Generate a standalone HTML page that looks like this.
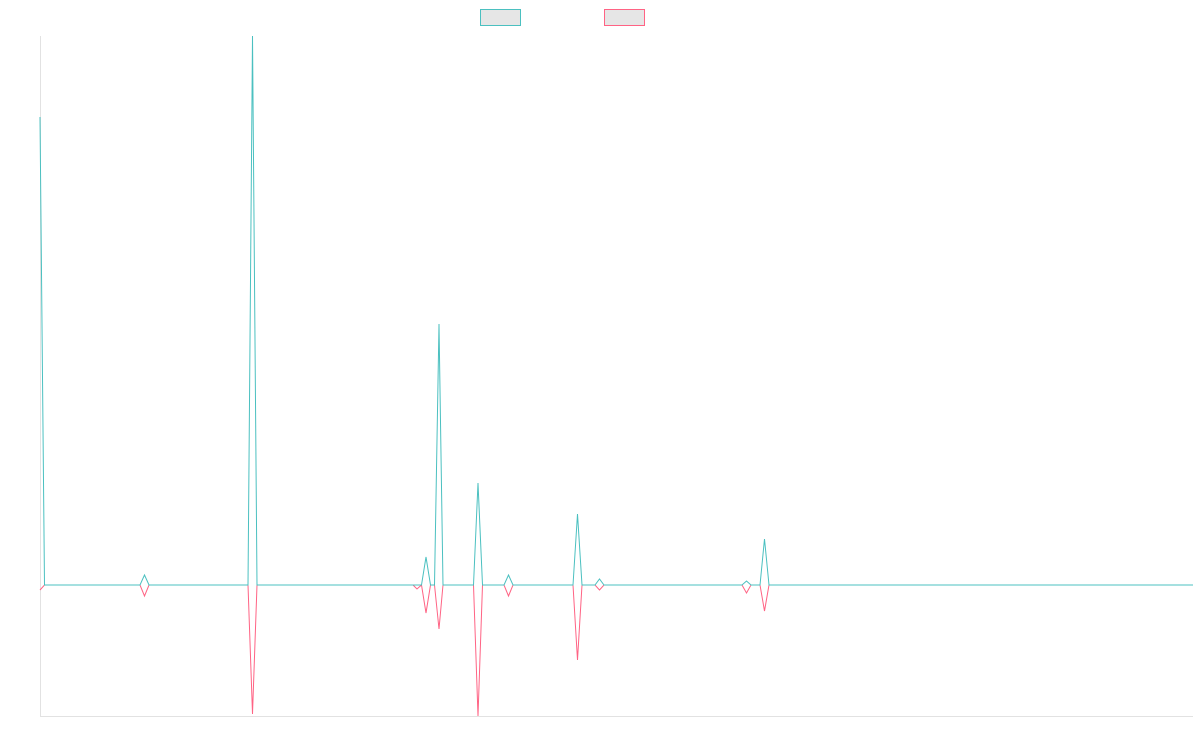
<!DOCTYPE html>
<html><head><meta charset="utf-8"><style>body{margin:0;background:#fff}svg{display:block}</style></head>
<body>
<svg width="1200" height="750" xmlns="http://www.w3.org/2000/svg">
<rect x="480.5" y="9.5" width="40" height="16" fill="#e6e6e6" stroke="#4bc0c0" stroke-width="1"/>
<rect x="604.5" y="9.5" width="40" height="16" fill="#e6e6e6" stroke="#ff6384" stroke-width="1"/>
<line x1="40.5" y1="36" x2="40.5" y2="716.5" stroke="#e2e2e2" stroke-width="1"/>
<line x1="40" y1="716.5" x2="1193" y2="716.5" stroke="#e2e2e2" stroke-width="1"/>
<polyline fill="none" stroke="#ff6384" stroke-width="1" points="40,590 44.5,585 140,585 144.5,596 149,585 248,585 252.5,714 257,585 413,585 417,589 421.5,585 426,613 430.5,585 434.5,585 439,629 443,585 473.5,585 478,716 482.5,585 504,585 508.5,596 513,585 573,585 577.5,660 582,585 595,585 599.5,590 604,585 742,585 746.5,593 751,585 760,585 764.5,611 769,585 1193,585"/>
<polyline fill="none" stroke="#4bc0c0" stroke-width="1" points="40,117 44.5,585 140,585 144.5,575 149,585 248,585 252.5,36 257,585 421.5,585 426,557 430.5,585 434.5,585 439,324 443,585 473.5,585 478,483 482.5,585 504,585 508.5,575 513,585 573,585 577.5,514 582,585 595,585 599.5,579 604,585 742,585 746.5,581 751,585 760,585 764.5,539 769,585 1193,585"/>
</svg>
</body></html>
